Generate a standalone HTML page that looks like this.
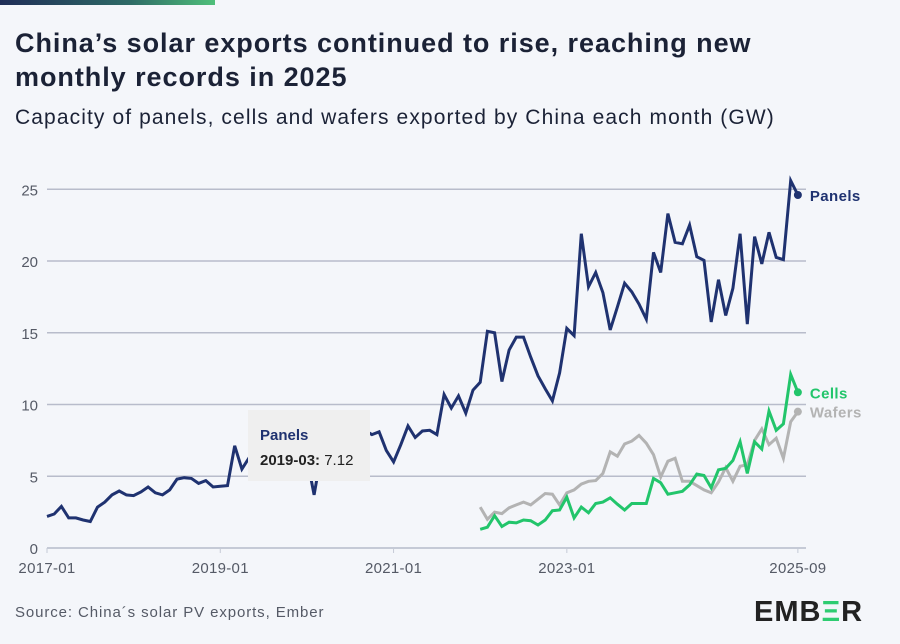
<!DOCTYPE html>
<html><head><meta charset="utf-8">
<style>
html,body{margin:0;padding:0;background:#f4f6fa;}
body{width:900px;height:644px;position:relative;overflow:hidden;font-family:"Liberation Sans",sans-serif;}
#topbar{position:absolute;left:0;top:0;width:215px;height:5px;background:linear-gradient(90deg,#1f2d57,#2e6a66 60%,#4fbf7a);}
#title{position:absolute;left:15px;top:26px;font-size:27px;font-weight:bold;color:#1b2236;line-height:34px;letter-spacing:0.95px;white-space:nowrap;}
#subtitle{position:absolute;left:15px;top:106px;font-size:21px;color:#1b2236;letter-spacing:1.1px;white-space:nowrap;}
#source{position:absolute;left:15px;top:604px;font-size:15px;color:#555a66;letter-spacing:0.9px;}
#logo{position:absolute;left:754px;top:596px;font-size:29px;font-weight:bold;color:#222;letter-spacing:1px;}
svg{position:absolute;left:0;top:0;}
</style></head>
<body>
<div id="topbar"></div>
<div id="title">China’s solar exports continued to rise, reaching new<br>monthly records in 2025</div>
<div id="subtitle">Capacity of panels, cells and wafers exported by China each month (GW)</div>
<svg id="chart" width="900" height="644"></svg>
<div id="source">Source: China´s solar PV exports, Ember</div>
<div id="logo">EMB<span style="color:#2ecc71">Ξ</span>R</div>
<script>
const yTicks=[0,5,10,15,20,25];
const xTickMonths=[0,24,48,72,104];
const xTickLabels=["2017-01","2019-01","2021-01","2023-01","2025-09"];
const panels=[2.2,2.37,2.9,2.1,2.1,1.95,1.85,2.85,3.2,3.7,3.97,3.7,3.65,3.9,4.25,3.85,3.7,4.05,4.8,4.9,4.85,4.5,4.7,4.25,4.3,4.35,7.12,5.5,6.3,6.6,6.8,7.0,6.5,6.8,7.2,6.6,6.3,3.7,6.6,7.5,7.8,8.0,8.3,7.8,8.2,7.9,8.1,6.8,6.0,7.2,8.5,7.7,8.15,8.2,7.9,10.7,9.75,10.6,9.4,11.0,11.55,15.1,15.0,11.6,13.8,14.7,14.7,13.3,12.0,11.1,10.25,12.2,15.3,14.8,21.9,18.2,19.2,17.8,15.2,16.8,18.45,17.85,17.0,15.95,20.6,19.2,23.3,21.3,21.2,22.5,20.3,20.05,15.75,18.7,16.2,18.1,21.9,15.6,21.7,19.8,22.0,20.25,20.1,25.6,24.6];
const cellsStart=60;
const cells=[1.3,1.45,2.25,1.5,1.8,1.75,1.95,1.9,1.6,1.95,2.6,2.65,3.55,2.1,2.85,2.45,3.1,3.2,3.5,3.05,2.65,3.1,3.1,3.1,4.85,4.55,3.75,3.85,3.95,4.4,5.15,5.05,4.2,5.45,5.55,6.1,7.4,5.2,7.4,6.9,9.55,8.2,8.65,12.1,10.85];
const wafers=[2.85,2.0,2.5,2.4,2.8,3.0,3.2,3.0,3.4,3.8,3.75,3.0,3.85,4.05,4.45,4.65,4.7,5.2,6.7,6.4,7.25,7.45,7.85,7.3,6.5,4.95,6.05,6.25,4.65,4.65,4.35,4.05,3.85,4.6,5.6,4.65,5.7,5.8,7.5,8.3,7.2,7.65,6.25,8.8,9.5];
const seriesNames=["Panels","Cells","Wafers"];
const colors=["#1f3270","#22c56b","#b3b3b3"];

const NS="http://www.w3.org/2000/svg";
const svg=document.getElementById('chart');
function X(m){return 47+m*7.22;}
function Y(v){return 548-v*14.35;}
function mk(t,a){const e=document.createElementNS(NS,t);for(const k in a)e.setAttribute(k,a[k]);svg.appendChild(e);return e;}
yTicks.forEach(v=>{
  const g=mk('line',{x1:47,x2:806,y1:Y(v),y2:Y(v),stroke:v===0?'#c5cad6':'#b8bccb','stroke-width':v===0?2:1.5});
  
  
  const t=mk('text',{x:38,y:Y(v)+6,'text-anchor':'end','font-size':15,fill:'#555a66','font-family':'Liberation Sans'});
  t.textContent=v;
  
  
});
xTickMonths.forEach((m,i)=>{
  const l=mk('line',{x1:X(m),x2:X(m),y1:548,y2:553,stroke:'#c5cad6','stroke-width':1});
  
  
  const t=mk('text',{x:X(m),y:573,'text-anchor':'middle','font-size':15,fill:'#555a66','font-family':'Liberation Sans','letter-spacing':'0.3'});
  t.textContent=xTickLabels[i];
  
  
});
function line(data,start,color,name,labelDy){
  const pts=data.map((v,i)=>X(start+i).toFixed(1)+','+Y(v).toFixed(1)).join(' ');
  const p=mk('polyline',{points:pts,fill:'none',stroke:color,'stroke-width':3,'stroke-linejoin':'miter'});
  
  
  const last=data.length-1, lx=X(start+last), ly=Y(data[last]);
  const c=mk('circle',{cx:lx,cy:ly,r:4,fill:color});
  
  
  const t=mk('text',{x:lx+12,y:ly+6+labelDy,'font-size':15,'font-weight':'bold',fill:color,'font-family':'Liberation Sans','letter-spacing':'0.4'});
  t.textContent=name;
  
  
}
line(wafers,cellsStart,colors[2],seriesNames[2],0);
line(cells,cellsStart,colors[1],seriesNames[1],0);
line(panels,0,colors[0],seriesNames[0],0);
const tb=mk('rect',{x:248,y:410,width:122,height:71,fill:'#efefef'});


const t1=mk('text',{x:260,y:440,'font-size':15,'font-weight':'bold',fill:'#1f3270','font-family':'Liberation Sans'});
t1.textContent='Panels';


const t2=mk('text',{x:260,y:465,'font-size':15,fill:'#222','font-family':'Liberation Sans'});
t2.innerHTML='<tspan font-weight="bold">2019-03:</tspan> 7.12';


</script>
</body></html>
